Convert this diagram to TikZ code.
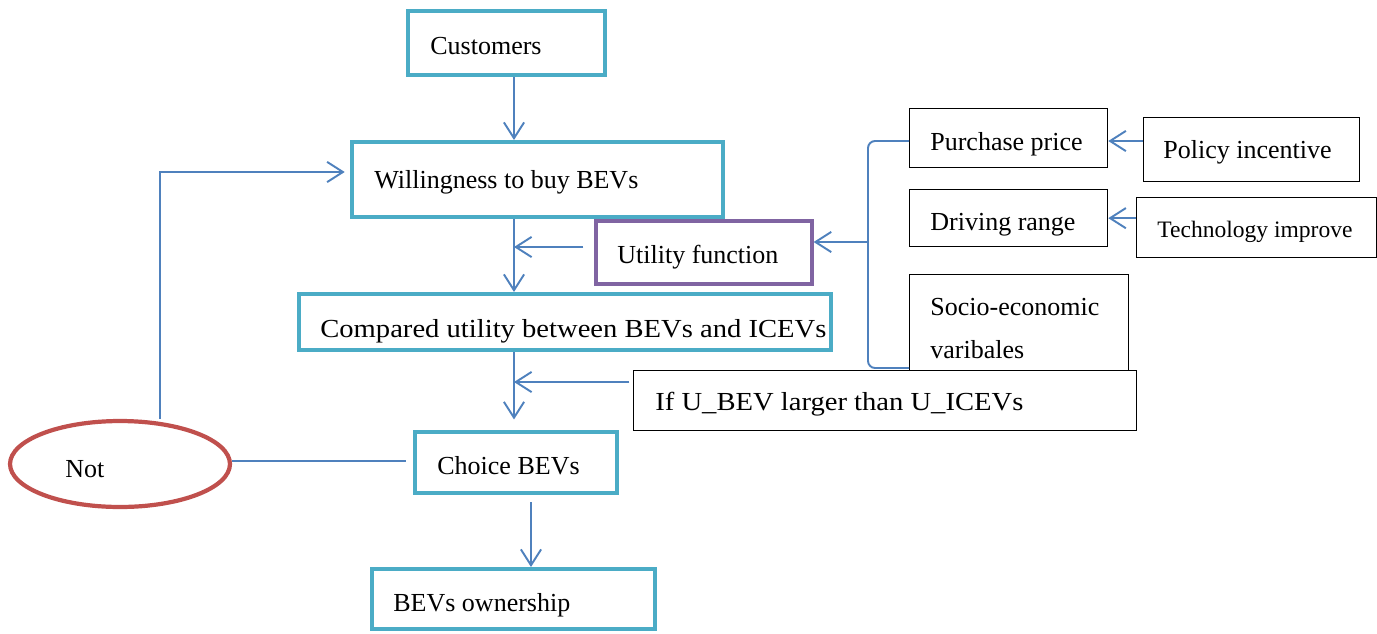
\documentclass[tikz,border=0pt]{standalone}
\usepackage{fontspec}
\usepackage{graphicx}
\setmainfont{Liberation Serif}
\usetikzlibrary{arrows.meta,shapes.geometric}
\definecolor{tealc}{HTML}{4BACC6}
\definecolor{purplec}{HTML}{8064A2}
\definecolor{redc}{HTML}{C0504D}
\definecolor{bluec}{HTML}{4F81BD}
\tikzset{
  box/.style={draw, rectangle, anchor=north west, inner sep=0pt, fill=white},
  mainbox/.style={box, draw=tealc, line width=2.4pt},
  funbox/.style={box, draw=purplec, line width=2.1pt},
  plainbox/.style={box, draw=black, line width=0.75pt},
  txt/.style={anchor=base west, inner sep=0pt, font=\fontsize{14.8}{18}\selectfont},
  smalltxt/.style={txt, font=\fontsize{13.4}{16}\selectfont},
  link/.style={draw=bluec, line width=1.1pt},
  arr/.style={link, -{Straight Barb[length=9pt,width=11.5pt,line width=1.1pt]}},
}
\begin{document}
\begin{tikzpicture}[x=0.02cm, y=-0.02cm]
\useasboundingbox (0,0) rectangle (1377,633);

% main chain
\node[mainbox, minimum width=3.94cm, minimum height=1.28cm] (cust) at (406,9) {};
\node[mainbox, minimum width=7.42cm, minimum height=1.5cm] (will) at (350,140) {};
\node[funbox, minimum width=4.32cm, minimum height=1.26cm] (util) at (594,219) {};
\node[mainbox, minimum width=10.64cm, minimum height=1.12cm] (comp) at (297,292) {};
\node[mainbox, minimum width=4.04cm, minimum height=1.22cm] (choice) at (413,430) {};
\node[mainbox, minimum width=5.66cm, minimum height=1.2cm] (own) at (370,567) {};
\node[draw=redc, line width=2.4pt, ellipse, minimum width=4.4cm, minimum height=1.72cm] (not) at (120,464) {};

\node[txt] (custT) at (430,54) {Customers};
\node[txt] (willT) at (374,188) {Willingness to buy BEVs};
\node[txt] (utilT) at (617,263) {Utility function};
\node[txt] (compT) at (320,337) {\scalebox{1.1}[1]{Compared utility between BEVs and ICEVs}};
\node[txt] (choiceT) at (437,474) {Choice BEVs};
\node[txt] (ownT) at (393,611) {BEVs ownership};
\node[txt] (notT) at (65,477) {Not};

% factors
\node[plainbox, minimum width=3.96cm, minimum height=1.18cm] (pp) at (909,108) {};
\node[plainbox, minimum width=3.96cm, minimum height=1.14cm] (dr) at (909,189) {};
\node[plainbox, minimum width=4.38cm, minimum height=1.92cm] (se) at (909,274) {};
\node[plainbox, minimum width=10.06cm, minimum height=1.2cm] (cond) at (633,370) {};
\node[plainbox, minimum width=4.32cm, minimum height=1.28cm] (pol) at (1143,117) {};
\node[plainbox, minimum width=4.8cm, minimum height=1.2cm] (tech) at (1136,197) {};

\node[txt] (ppT) at (930,150) {Purchase price};
\node[txt] (drT) at (930,230) {Driving range};
\node[txt] (seT1) at (930,315) {Socio-economic};
\node[txt] (seT2) at (930,358) {varibales};
\node[txt] (condT) at (655,410) {\scalebox{1.1}[1]{If U\_BEV larger than U\_ICEVs}};
\node[txt] (polT) at (1163,158) {Policy incentive};
\node[smalltxt] (techT) at (1157,237) {Technology improve};

% guide coordinates
\coordinate (xa) at (514,0);
\coordinate (xb) at (531,0);
\coordinate (xc) at (868,0);
\coordinate (xn) at (160,0);
\coordinate (yu) at (0,247);
\coordinate (yf) at (0,242);
\coordinate (yc) at (0,382);
\coordinate (yn) at (0,461);
\coordinate (yw) at (0,172);
\coordinate (ytop) at (0,141);
\coordinate (ybot) at (0,368);

% connectors along the chain
\draw[arr] (cust.south -| xa) -- (will.north -| xa);
\draw[arr] (will.south -| xa) -- (comp.north -| xa);
\draw[arr, shorten <=6pt] (util.west |- yu) -- (xa |- yu);
\draw[arr, shorten >=6pt] (comp.south -| xa) -- (choice.north -| xa);
\draw[arr, shorten <=2pt] (cond.west |- yc) -- (xa |- yc);
\draw[arr, shorten <=4pt] (choice.south -| xb) -- (own.north -| xb);

% rejection loop
\draw[link, shorten >=4pt] (not.east |- yn) -- (choice.west |- yn);
\draw[arr, shorten >=3pt] (not.north -| xn) -- (xn |- yw) -- (will.west |- yw);

% factor bracket
\draw[link, rounded corners=4pt] (pp.west |- ytop) -- (xc |- ytop) -- (xc |- ybot) -- (se.west |- ybot);
\draw[arr] (xc |- yf) -- (util.east |- yf);
\draw[arr] (pol.west |- ytop) -- (pp.east |- ytop);
\draw[arr] (tech.west |- dr.east) -- (dr.east);
\end{tikzpicture}
\end{document}
